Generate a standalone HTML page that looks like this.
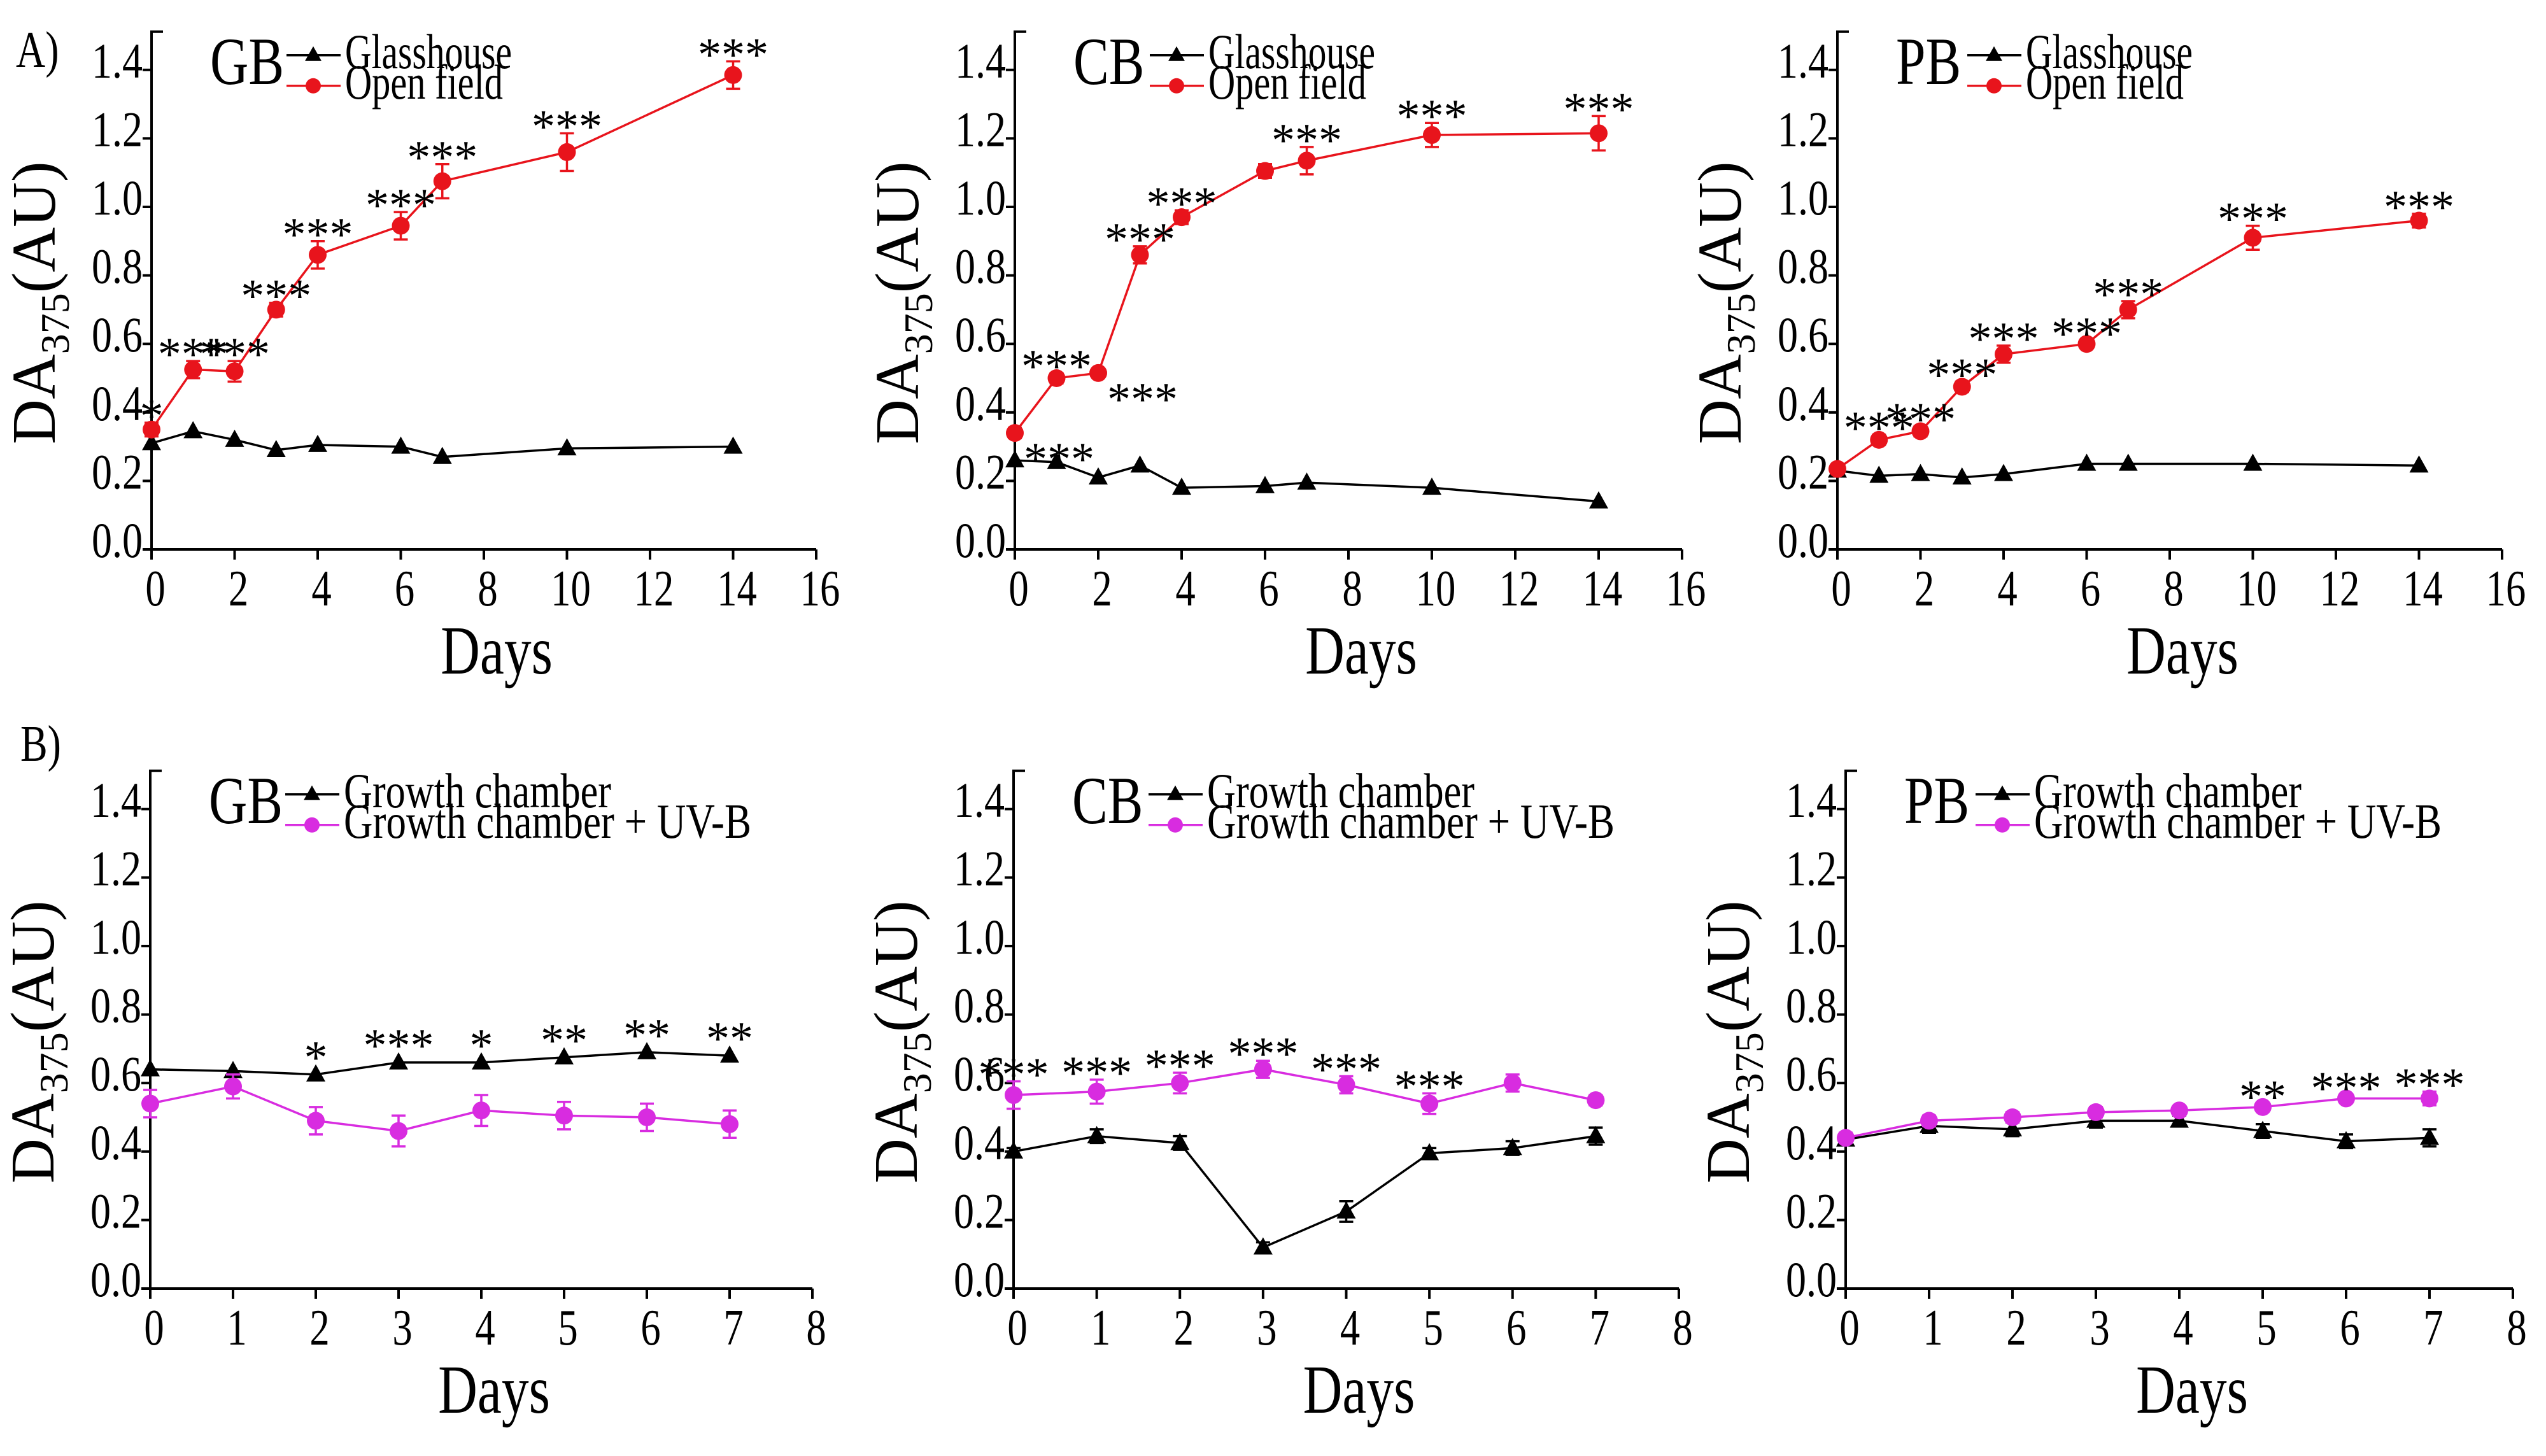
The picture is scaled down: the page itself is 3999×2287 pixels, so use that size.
<!DOCTYPE html>
<html><head><meta charset="utf-8"><style>
html,body{margin:0;padding:0;background:#fff;}
svg{display:block;}
text{font-family:"Liberation Serif","Times New Roman",serif;}
</style></head><body>
<svg id="fig" width="3999" height="2287" viewBox="0 0 3999 2287" xmlns="http://www.w3.org/2000/svg" font-family="Liberation Serif, serif">
<text transform="translate(25,105) scale(1,1.25)" font-size="64">A)</text>
<text transform="translate(32,1195) scale(1,1.25)" font-size="64">B)</text>
</svg>
<script>
// Row A data (days 0,1,2,3,4,6,7,10,14)
const daysA = [0,1,2,3,4,6,7,10,14];
const gbGlass = [0.31,0.345,0.32,0.29,0.305,0.30,0.27,0.295,0.30];
const gbOpen = [0.35,0.525,0.52,0.70,0.86,0.945,1.075,1.16,1.385];
const gbOpenErr = [0.02,0.025,0.03,0.02,0.04,0.04,0.05,0.055,0.04];
const gbStars = ["*","***","***","***","***","***","***","***","***"];
const cbGlass = [0.26,0.255,0.21,0.245,0.18,0.185,0.195,0.18,0.14];
const cbOpen = [0.34,0.50,0.515,0.86,0.97,1.105,1.135,1.21,1.215];
const cbOpenErr = [0.015,0.015,0.01,0.025,0.02,0.02,0.04,0.035,0.05];
const cbStars = ["***","***","***","***","***","","***","***","***"];
const pbGlass = [0.23,0.215,0.22,0.21,0.22,0.25,0.25,0.25,0.245];
const pbOpen = [0.235,0.32,0.345,0.475,0.57,0.60,0.70,0.91,0.96];
const pbOpenErr = [0.01,0.015,0.015,0.015,0.025,0.01,0.025,0.035,0.02];
const pbStars = ["","***","***","***","***","***","***","***","***"];
// Row B data (days 0..7)
const daysB = [0,1,2,3,4,5,6,7];
const gbCh = [0.64,0.635,0.625,0.66,0.66,0.675,0.69,0.68];
const gbUv = [0.54,0.59,0.49,0.46,0.52,0.505,0.50,0.48];
const gbUvErr = [0.04,0.035,0.04,0.045,0.045,0.04,0.04,0.04];
const gbStarsB = ["","","*","***","*","**","**","**"];
const cbCh = [0.40,0.445,0.425,0.12,0.225,0.395,0.41,0.445];
const cbChErr = [0.01,0.02,0.02,0.015,0.03,0.015,0.02,0.025];
const cbUv = [0.565,0.575,0.60,0.64,0.595,0.54,0.60,0.55];
const cbUvErr = [0.04,0.035,0.03,0.025,0.025,0.03,0.025,0.015];
const cbStarsB = ["***","***","***","***","***","***","",""];
const pbCh = [0.435,0.475,0.465,0.49,0.49,0.46,0.43,0.44];
const pbChErr = [0.015,0.02,0.02,0.02,0.015,0.02,0.02,0.025];
const pbUv = [0.44,0.49,0.50,0.515,0.52,0.53,0.555,0.555];
const pbUvErr = [0.015,0.015,0.015,0.015,0.01,0.01,0.01,0.02];
const pbStarsB = ["","","","","","**","***","***"];
const yTicks = ["0.0","0.2","0.4","0.6","0.8","1.0","1.2","1.4"];
const xTicksA = ["0","2","4","6","8","10","12","14","16"];
const xTicksB = ["0","1","2","3","4","5","6","7","8"];

const svg = document.getElementById('fig');
const NS = 'http://www.w3.org/2000/svg';
function mk(tag, attrs, parent){const e=document.createElementNS(NS,tag);for(const k in attrs)e.setAttribute(k,attrs[k]);(parent||svg).appendChild(e);return e;}
function txt(parent,x,y,size,str,anchor,sx,sy){
  const t=mk('text',{transform:`translate(${x},${y}) scale(${sx},${sy})`,'font-size':size,'text-anchor':anchor||'start'},parent);
  t.textContent=str;return t;
}

function panel(cfg){
  const g = mk('g',{});
  
  
  const x0=cfg.x0, x1=cfg.x1, y0=cfg.y0, unit=538;
  const xs = v => x0 + (x1-x0)*v/cfg.xmax;
  const ys = v => y0 - unit*v;
  const top = ys(1.4) - 60;
  const ax = mk('path',{d:`M${x0+18} ${top}H${x0}V${y0}H${x1}`,stroke:'#000','stroke-width':4,fill:'none'},g);
  
  
  yTicks.forEach(t=>{const y=ys(+t);mk('line',{x1:x0-14,x2:x0,y1:y,y2:y,stroke:'#000','stroke-width':4},g);
    const tx=txt(g,x0-14,y+12,64,t,'end',1.0,1.22);
    
    });
  cfg.xticks.forEach(t=>{const x=xs(+t);mk('line',{x1:x,x2:x,y1:y0,y2:y0+16,stroke:'#000','stroke-width':4},g);
    const tx=txt(g,x+6,y0+88,66,t,'middle',0.95,1.22);
    
    });
  const xt=txt(g,(x0+x1)/2+20,y0+195,90,'Days','middle',0.95,1.2);
  
  
  const yt=mk('text',{x:0,y:0,'font-size':98,'text-anchor':'middle',transform:`translate(${x0-152},${ys(0.72)}) rotate(-90)`},g);
  yt.innerHTML='DA<tspan font-size="64" dy="22">375</tspan><tspan dy="-22">(AU)</tspan>';
  
  
  cfg.series.forEach(s=>{
    const d=s.vals.map((v,i)=>(i?'L':'M')+xs(cfg.days[i])+' '+ys(v)).join('');
    const ln=mk('path',{d,stroke:s.color,'stroke-width':3.5,fill:'none'},g);
    
    
    s.vals.forEach((v,i)=>{
      const x=xs(cfg.days[i]),y=ys(v);
      if(s.err){const e=s.err[i];mk('path',{d:`M${x} ${ys(v-e)}V${ys(v+e)}M${x-11} ${ys(v-e)}h22M${x-11} ${ys(v+e)}h22`,stroke:s.color,'stroke-width':3.5,fill:'none'},g);}
      let m;
      if(s.shape==='tri') m=mk('path',{d:`M${x} ${y-16}L${x+15} ${y+11}L${x-15} ${y+11}Z`,fill:s.color},g);
      else m=mk('circle',{cx:x,cy:y,r:14,fill:s.color},g);
      
      
    });
  });
  cfg.stars.forEach((st,i)=>{ if(!st) return;
    const v=cfg.starBase[i]+(cfg.starErr?cfg.starErr[i]:0);
    const right = cfg.starRight && cfg.starRight[i];
    const x = xs(cfg.days[i])+(right?14:0);
    const y = right?ys(cfg.starBase[i])+66:ys(v)+(cfg.starErr?14:-2);
    const tx=txt(g,x,y,74,st,right?'start':'middle',1,1);
    
    
  });
  const ly=ys(1.4);
  const lt=txt(g,x0+92,ly+22,88,cfg.label,'start',0.95,1.2);
  
  
  const lx=x0+92+(cfg.label==='PB'?112:120);
  cfg.series.forEach((s,k)=>{
    const yy=ly+(k?25:-23);
    const e=mk('g',{},g);
    
    
    mk('line',{x1:lx,x2:lx+85,y1:yy,y2:yy,stroke:s.color,'stroke-width':3.5},e);
    if(s.shape==='tri') mk('path',{d:`M${lx+42} ${yy-14}L${lx+55} ${yy+9}L${lx+29} ${yy+9}Z`,fill:s.color},e);
    else mk('circle',{cx:lx+42,cy:yy,r:12,fill:s.color},e);
    const t=mk('text',{x:0,y:0,'font-size':64,textLength:s.tl,lengthAdjust:'spacingAndGlyphs',transform:`translate(${lx+92},${yy+20}) scale(1,1.2)`},e);t.textContent=s.legend;
  });
}
const red='#e8141c', mag='#d82ce0';
const rowA=863, rowB=2024;
panel({name:'chart-a-gb',label:'GB',x0:238,x1:1282,y0:rowA,xmax:16,xticks:xTicksA,days:daysA,
  series:[{key:'glasshouse',legend:'Glasshouse',tl:262,vals:gbGlass,color:'#000',shape:'tri'},{key:'open-field',legend:'Open field',tl:248,vals:gbOpen,err:gbOpenErr,color:red,shape:'circ'}],
  stars:gbStars,starBase:gbOpen,starErr:gbOpenErr});
panel({name:'chart-a-cb',label:'CB',x0:1594,x1:2642,y0:rowA,xmax:16,xticks:xTicksA,days:daysA,
  series:[{key:'glasshouse',legend:'Glasshouse',tl:262,vals:cbGlass,color:'#000',shape:'tri'},{key:'open-field',legend:'Open field',tl:248,vals:cbOpen,err:cbOpenErr,color:red,shape:'circ'}],
  stars:cbStars,starBase:cbOpen,starErr:cbOpenErr,starRight:[true,false,true,false,false,false,false,false,false]});
panel({name:'chart-a-pb',label:'PB',x0:2886,x1:3930,y0:rowA,xmax:16,xticks:xTicksA,days:daysA,
  series:[{key:'glasshouse',legend:'Glasshouse',tl:262,vals:pbGlass,color:'#000',shape:'tri'},{key:'open-field',legend:'Open field',tl:248,vals:pbOpen,err:pbOpenErr,color:red,shape:'circ'}],
  stars:pbStars,starBase:pbOpen,starErr:pbOpenErr});
panel({name:'chart-b-gb',label:'GB',x0:236,x1:1276,y0:rowB,xmax:8,xticks:xTicksB,days:daysB,
  series:[{key:'growth-chamber',legend:'Growth chamber',tl:420,vals:gbCh,color:'#000',shape:'tri'},{key:'growth-chamber-uvb',legend:'Growth chamber + UV-B',tl:640,vals:gbUv,err:gbUvErr,color:mag,shape:'circ'}],
  stars:gbStarsB,starBase:gbCh,starErr:null});
panel({name:'chart-b-cb',label:'CB',x0:1592,x1:2637,y0:rowB,xmax:8,xticks:xTicksB,days:daysB,
  series:[{key:'growth-chamber',legend:'Growth chamber',tl:420,vals:cbCh,err:cbChErr,color:'#000',shape:'tri'},{key:'growth-chamber-uvb',legend:'Growth chamber + UV-B',tl:640,vals:cbUv,err:cbUvErr,color:mag,shape:'circ'}],
  stars:cbStarsB,starBase:cbUv,starErr:cbUvErr});
panel({name:'chart-b-pb',label:'PB',x0:2899,x1:3947,y0:rowB,xmax:8,xticks:xTicksB,days:daysB,
  series:[{key:'growth-chamber',legend:'Growth chamber',tl:420,vals:pbCh,err:pbChErr,color:'#000',shape:'tri'},{key:'growth-chamber-uvb',legend:'Growth chamber + UV-B',tl:640,vals:pbUv,err:pbUvErr,color:mag,shape:'circ'}],
  stars:pbStarsB,starBase:pbUv,starErr:pbUvErr});
</script>
</body></html>
